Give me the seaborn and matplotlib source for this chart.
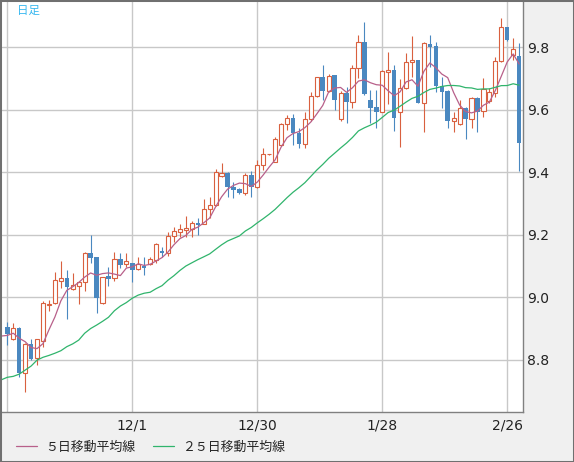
import numpy as np
import pandas as pd
import matplotlib
matplotlib.use('Agg')
import matplotlib.pyplot as plt
import seaborn as sns
from matplotlib.patches import Rectangle

# daily candles, 2014-10-31 .. 2015-03-02 (weekdays)
dates = pd.bdate_range('2014-10-31', periods=87)

opens = [8.904, 8.868, 8.903, 8.759, 8.851, 8.805, 8.861, 8.975, 8.981, 9.053,
         9.061, 9.026, 9.037, 9.048, 9.141, 9.128, 8.981, 9.068, 9.061, 9.122,
         9.106, 9.111, 9.090, 9.100, 9.107, 9.119, 9.148, 9.141, 9.196, 9.210,
         9.216, 9.219, 9.238, 9.235, 9.282, 9.296, 9.388, 9.397, 9.354, 9.347,
         9.333, 9.391, 9.352, 9.422, 9.458, 9.434, 9.487, 9.554, 9.575, 9.525,
         9.490, 9.570, 9.644, 9.704, 9.660, 9.711, 9.571, 9.653, 9.626, 9.733,
         9.816, 9.631, 9.610, 9.594, 9.722, 9.727, 9.592, 9.669, 9.752, 9.759,
         9.623, 9.811, 9.804, 9.676, 9.660, 9.565, 9.555, 9.605, 9.570, 9.637,
         9.596, 9.628, 9.655, 9.756, 9.864, 9.776, 9.772]
highs = [8.922, 8.917, 8.906, 8.855, 8.866, 8.867, 8.988, 8.990, 9.082, 9.116,
         9.087, 9.079, 9.053, 9.144, 9.199, 9.129, 9.066, 9.098, 9.146, 9.141,
         9.141, 9.111, 9.130, 9.128, 9.128, 9.175, 9.162, 9.210, 9.226, 9.235,
         9.260, 9.245, 9.255, 9.314, 9.322, 9.410, 9.429, 9.400, 9.370, 9.351,
         9.397, 9.405, 9.439, 9.477, 9.460, 9.514, 9.557, 9.583, 9.586, 9.541,
         9.592, 9.658, 9.706, 9.743, 9.714, 9.711, 9.660, 9.674, 9.743, 9.839,
         9.882, 9.663, 9.663, 9.727, 9.785, 9.743, 9.698, 9.781, 9.836, 9.760,
         9.818, 9.839, 9.817, 9.706, 9.662, 9.594, 9.631, 9.608, 9.640, 9.640,
         9.701, 9.669, 9.770, 9.893, 9.866, 9.829, 9.813]
lows = [8.847, 8.863, 8.746, 8.698, 8.799, 8.784, 8.842, 8.955, 8.979, 9.029,
        8.931, 9.023, 8.979, 9.021, 9.109, 8.949, 8.979, 9.036, 9.053, 9.093,
        9.098, 9.050, 9.087, 9.071, 9.103, 9.109, 9.128, 9.132, 9.178, 9.192,
        9.192, 9.192, 9.199, 9.233, 9.253, 9.293, 9.386, 9.322, 9.317, 9.331,
        9.327, 9.322, 9.349, 9.407, 9.456, 9.432, 9.485, 9.535, 9.487, 9.477,
        9.477, 9.564, 9.642, 9.631, 9.658, 9.599, 9.564, 9.557, 9.607, 9.701,
        9.647, 9.557, 9.543, 9.592, 9.620, 9.533, 9.480, 9.666, 9.706, 9.621,
        9.530, 9.738, 9.658, 9.605, 9.541, 9.528, 9.551, 9.506, 9.541, 9.530,
        9.578, 9.623, 9.642, 9.754, 9.821, 9.759, 9.405]
closes = [8.883, 8.901, 8.759, 8.850, 8.803, 8.866, 8.981, 8.980, 9.055, 9.061,
          9.034, 9.039, 9.048, 9.141, 9.127, 8.997, 9.066, 9.059, 9.122, 9.103,
          9.117, 9.087, 9.107, 9.095, 9.122, 9.170, 9.141, 9.196, 9.212, 9.219,
          9.221, 9.237, 9.232, 9.282, 9.296, 9.400, 9.397, 9.354, 9.343, 9.333,
          9.391, 9.352, 9.423, 9.458, 9.459, 9.507, 9.554, 9.575, 9.525, 9.490,
          9.570, 9.644, 9.704, 9.660, 9.709, 9.631, 9.653, 9.626, 9.733, 9.816,
          9.651, 9.607, 9.594, 9.724, 9.727, 9.573, 9.669, 9.752, 9.759, 9.623,
          9.813, 9.802, 9.676, 9.658, 9.565, 9.573, 9.605, 9.570, 9.637, 9.594,
          9.666, 9.656, 9.756, 9.864, 9.823, 9.794, 9.495]

# moving-average values read off the chart where the window reaches back
# before the first visible candle (positions -1 .. 3 and -1 .. 23)
ma5_head = [8.876, 8.878, 8.885, 8.869, 8.858]
ma25_head = [8.736, 8.744, 8.747, 8.754, 8.767, 8.780, 8.799, 8.808, 8.814,
             8.821, 8.829, 8.842, 8.851, 8.863, 8.885, 8.900, 8.911, 8.923,
             8.936, 8.957, 8.972, 8.983, 8.997, 9.007, 9.013]

tick_dates = ['2014-10-31', '2014-12-01', '2014-12-30', '2015-01-28', '2015-02-26']
tick_labels = ['', '12/1', '12/30', '1/28', '2/26']
y_ticks = [8.8, 9.0, 9.2, 9.4, 9.6, 9.8]

df = pd.DataFrame({'date': dates, 'open': opens, 'high': highs,
                   'low': lows, 'close': closes})
df['pos'] = np.arange(len(df))
ma5 = df['close'].rolling(5).mean().values
ma25 = df['close'].rolling(25).mean().values
pos_line = np.arange(-1, len(df))
ma5_line = np.concatenate([ma5_head, ma5[4:]])
ma25_line = np.concatenate([ma25_head, ma25[24:]])

RED = '#d9603f'
BLUE = '#4a88c0'
C_MA5 = '#b8608a'
C_MA25 = '#30b46c'

sns.set_style('white')
plt.rcParams['font.family'] = ['DejaVu Sans']
cjk = ['Noto Sans CJK JP', 'DejaVu Sans']

W, H = 574, 462
fig = plt.figure(figsize=(W / 100, H / 100), dpi=100)
fig.patch.set_facecolor('#f0f0f0')

ax = fig.add_axes([2 / W, 1 - 412.3 / H, (523.3 - 2) / W, (412.3 - 1) / H])
ax.set_facecolor('white')

up = df['close'] >= df['open']
dn = ~up

ax.vlines(df['pos'], df['low'], df['high'],
          colors=np.where(up, RED, BLUE), linewidth=0.8, zorder=2)
ax.bar(df['pos'][up], (df['close'] - df['open'])[up], bottom=df['open'][up],
       width=0.7, facecolor='white', edgecolor=RED, linewidth=0.8, zorder=3)
ax.bar(df['pos'][dn], (df['open'] - df['close'])[dn], bottom=df['close'][dn],
       width=0.75, color=BLUE, linewidth=0, zorder=3)

sns.lineplot(x=pos_line, y=ma5_line, ax=ax, color=C_MA5, linewidth=0.9,
             label='５日移動平均線', zorder=4)
sns.lineplot(x=pos_line, y=ma25_line, ax=ax, color=C_MA25, linewidth=0.9,
             label='２５日移動平均線', zorder=4)

tick_pos = [int(np.where(df['date'] == pd.Timestamp(d))[0][0]) for d in tick_dates]
ax.set_xticks(tick_pos)
ax.set_xticklabels(tick_labels)
ax.set_yticks(y_ticks)
ax.set_yticklabels([f'{v:.1f}' for v in y_ticks])
ax.yaxis.tick_right()
ax.tick_params(axis='x', length=0, pad=4.5, labelsize=10, labelcolor='#222222')
ax.tick_params(axis='y', length=0, pad=2.6, labelsize=10, labelcolor='#222222')
ax.set_xlim(-0.89, 86.7)
ax.set_ylim(8.632, 9.948)
ax.set_xlabel('')
ax.set_ylabel('')
ax.grid(True, color='#c8c8c8', linewidth=1)
ax.set_axisbelow(True)

for side in ['left', 'top']:
    ax.spines[side].set_visible(False)
for side in ['right', 'bottom']:
    ax.spines[side].set_color('#808080')
    ax.spines[side].set_linewidth(1)

handles, labels = ax.get_legend_handles_labels()
ax.get_legend().remove()
fig.legend(handles, labels, loc='center left', ncol=2,
           bbox_to_anchor=(16 / W, 1 - 447.5 / H), frameon=False,
           borderpad=0, borderaxespad=0, handlelength=1.6,
           handletextpad=0.64, columnspacing=1.4,
           prop={'family': cjk, 'size': 9.3})

fig.text(16.7 / W, 1 - 10.3 / H, '日足', color='#38b8f0', fontsize=8.3,
         va='center', ha='left', family=cjk)

fig.patches.append(Rectangle((0, 0), 1, 1, transform=fig.transFigure,
                             fill=False, edgecolor='#707070', linewidth=2.2))

fig.savefig('out.png', dpi=100, facecolor=fig.get_facecolor())
